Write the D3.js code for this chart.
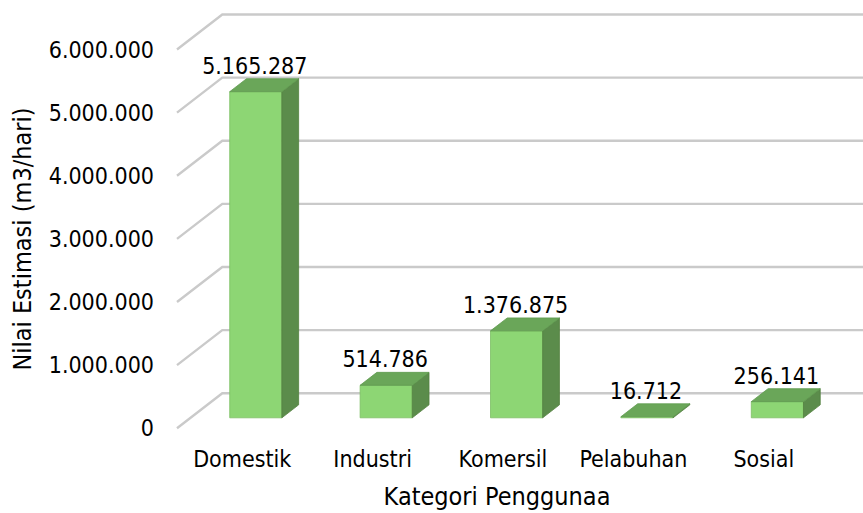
<!DOCTYPE html>
<html>
<head>
<meta charset="utf-8">
<script src="https://cdn.jsdelivr.net/npm/d3@7"></script>
<style>
  html, body { margin: 0; padding: 0; background: #fff; }
  svg { display: block; }
  text { font-family: "DejaVu Sans Condensed", "DejaVu Sans", sans-serif; font-stretch: condensed; fill: #000; }
</style>
</head>
<body>
<svg id="chart" width="863" height="513"></svg>
<script>
// ---- data ----
const categories = ["Domestik", "Industri", "Komersil", "Pelabuhan", "Sosial"];
const values = [5165287, 514786, 1376875, 16712, 256141];
const yTicks = [0, 1000000, 2000000, 3000000, 4000000, 5000000, 6000000];
const xTitle = "Kategori Penggunaa";
const yTitle = "Nilai Estimasi (m3/hari)";

// ---- layout ----
const W = 863, H = 513;
const fontSize = 23, titleSize = 25;
const floorX0 = 177, floorX1 = 829, floorY = 428.3;   // front edge of the floor
const depthX = 45.3, depthY = -35;                    // oblique depth vector
const barF1 = 0.30, barF2 = 0.67;                     // bar front/back depth fractions
const wallRight = 863;

const locale = d3.formatLocale({ decimal: ",", thousands: ".", grouping: [3], currency: ["", ""] });
const fmt = locale.format(",d");

const svg = d3.select("#chart");

const x = d3.scaleBand().domain(categories).range([floorX0, floorX1]).paddingInner(0.6).paddingOuter(0.3);
const y = d3.scaleLinear().domain([0, 6000000]).range([0, 378.8]);

// ---- gridlines (left wall diagonal + back wall) ----
const grid = svg.append("g");
yTicks.forEach(t => {
  const fy = floorY - y(t);
  grid.append("path")
    .attr("d", `M${floorX0},${fy} L${floorX0 + depthX},${fy + depthY} L${wallRight},${fy + depthY}`)
    .attr("fill", "none").attr("stroke", "#cacaca").attr("stroke-width", 2.4);
});

// y tick labels
svg.append("g").selectAll("text").data(yTicks).join("text")
  .attr("x", 154).attr("y", d => floorY - y(d))
  .attr("text-anchor", "end").attr("dominant-baseline", "central")
  .attr("font-size", fontSize)
  .text(d => fmt(d));

// ---- bars ----
const bars = svg.append("g");
const bd = barF2 - barF1;
categories.forEach((c, i) => {
  const v = values[i];
  const xl = x(c) + barF1 * depthX;
  const xr = xl + x.bandwidth();
  const yb = floorY + barF1 * depthY;
  const yt = yb - y(v);
  const dx = bd * depthX, dy = bd * depthY;
  // front
  bars.append("path")
    .attr("d", `M${xl},${yb} L${xl},${yt} L${xr},${yt} L${xr},${yb} Z`)
    .attr("fill", "#8dd674").attr("stroke", "#7dbf66").attr("stroke-width", 0.8);
  // side
  bars.append("path")
    .attr("d", `M${xr},${yb} L${xr},${yt} L${xr + dx},${yt + dy} L${xr + dx},${yb + dy} Z`)
    .attr("fill", "#5b8c4b").attr("stroke", "#53803f").attr("stroke-width", 0.8);
  // top
  bars.append("path")
    .attr("d", `M${xl},${yt} L${xr},${yt} L${xr + dx},${yt + dy} L${xl + dx},${yt + dy} Z`)
    .attr("fill", "#6aa659").attr("stroke", "#5f9a4f").attr("stroke-width", 0.8);
  // value label
  svg.append("text")
    .attr("x", (xl + xr) / 2 - 1)
    .attr("y", yt + dy - 5)
    .attr("text-anchor", "middle")
    .attr("font-size", fontSize)
    .text(fmt(v));
});

// ---- category labels ----
svg.append("g").selectAll("text").data(categories).join("text")
  .attr("x", d => x(d) + x.bandwidth() / 2)
  .attr("y", 467)
  .attr("text-anchor", "middle")
  .attr("font-size", fontSize)
  .text(d => d);

// ---- axis titles ----
svg.append("text")
  .attr("x", 497).attr("y", 505)
  .attr("text-anchor", "middle")
  .attr("font-size", titleSize)
  .text(xTitle);

svg.append("text")
  .attr("transform", "translate(31,239) rotate(-90)")
  .attr("text-anchor", "middle")
  .attr("font-size", titleSize)
  .text(yTitle);
</script>
</body>
</html>
